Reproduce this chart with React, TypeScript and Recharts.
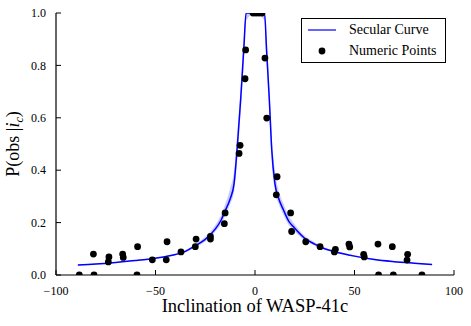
import {
  ComposedChart,
  Line,
  Area,
  Scatter,
  XAxis,
  YAxis,
  Legend,
} from "recharts";

// secular curve
const curveX = [-89, -80, -70, -60, -50, -40, -35, -30, -25, -20, -17, -15, -12.5, -10.5, -9, -7.2, -5.5, -4.5, 0, 4.8, 5.8, 7.2, 8.4, 10, 12, 14.2, 17, 19.2, 25, 30, 35, 40, 50, 60, 70, 80, 89];
const curveY = [0.038, 0.042, 0.048, 0.055, 0.064, 0.078, 0.09, 0.112, 0.136, 0.175, 0.21, 0.245, 0.29, 0.35, 0.48, 0.67, 0.88, 1, 1, 1, 0.86, 0.67, 0.48, 0.35, 0.29, 0.25, 0.205, 0.185, 0.14, 0.118, 0.1, 0.089, 0.072, 0.059, 0.051, 0.045, 0.04];
const bandLo = [0.036, 0.04, 0.046, 0.053, 0.062, 0.075, 0.086, 0.106, 0.128, 0.165, 0.195, 0.225, 0.27, 0.32, 0.43, 0.62, 0.83, 0.97, 1, 0.97, 0.81, 0.62, 0.43, 0.32, 0.27, 0.23, 0.19, 0.172, 0.132, 0.112, 0.096, 0.086, 0.07, 0.057, 0.049, 0.043, 0.038];
const bandHi = [0.04, 0.044, 0.05, 0.057, 0.066, 0.081, 0.094, 0.118, 0.146, 0.19, 0.23, 0.27, 0.33, 0.4, 0.53, 0.72, 0.93, 1, 1, 1, 0.91, 0.72, 0.53, 0.4, 0.32, 0.275, 0.225, 0.2, 0.15, 0.125, 0.105, 0.093, 0.075, 0.062, 0.053, 0.047, 0.042];

// numeric points
const pointsX = [-88.3, -81.2, -80.9, -73.7, -73.4, -66.5, -66.2, -59, -59.3, -51.6, -44.6, -44.2, -37.2, -30, -29.6, -22.4, -22.4, -15, -15.4, -8, -7.5, -5, -4.7, -1, 0.5, 2, 3.5, 5, 5.9, 10.7, 11.1, 17.9, 18.4, 25.5, 32.7, 39.9, 40.4, 47.2, 47.6, 54.6, 54.9, 61.8, 62.1, 69, 69.5, 76.4, 76.7, 83.9];
const pointsY = [0, 0.08, 0, 0.05, 0.069, 0.08, 0.067, 0.108, 0, 0.058, 0.058, 0.127, 0.088, 0.108, 0.137, 0.147, 0.137, 0.237, 0.196, 0.464, 0.495, 0.749, 0.859, 1, 1, 1, 1, 0.828, 0.599, 0.306, 0.375, 0.237, 0.166, 0.127, 0.108, 0.088, 0.098, 0.118, 0.107, 0.079, 0.069, 0.118, 0, 0.108, 0, 0.057, 0.079, 0];

const xTicks = [-100, -50, 0, 50, 100];
const yTicks = [0, 0.2, 0.4, 0.6, 0.8, 1.0];

const curveData = curveX.map((x, i) => ({ x, y: curveY[i], band: [bandLo[i], bandHi[i]] }));
const pointData = pointsX.map((x, i) => ({ x, y: pointsY[i] }));

const font = "Liberation Serif, DejaVu Serif, serif";
const fmtX = (v: number) => (v < 0 ? "\u2212" + Math.abs(v) : String(v));

const Dot = (props: any) => <circle cx={props.cx} cy={props.cy} r={3.4} fill="#000" />;

const LegendBox = () => (
  <div
    style={{
      position: "relative",
      width: 145,
      height: 45,
      border: "1px solid #000",
      background: "#fff",
      boxSizing: "border-box",
      fontFamily: font,
      fontSize: 14,
      lineHeight: "16px",
      color: "#000",
    }}
  >
    <svg width={40} height={44} style={{ position: "absolute", left: 0, top: 0 }}>
      <line x1={6} x2={34} y1={11} y2={11} stroke="#3333ff" strokeWidth={1.5} />
      <circle cx={20} cy={32} r={3.4} fill="#000" />
    </svg>
    <span style={{ position: "absolute", left: 47, top: 3, whiteSpace: "nowrap" }}>Secular Curve</span>
    <span style={{ position: "absolute", left: 47, top: 24, whiteSpace: "nowrap" }}>Numeric Points</span>
  </div>
);

export default function App() {
  return (
    <div style={{ position: "absolute", left: 0, top: 0, background: "#fff", fontFamily: font }}>
      <ComposedChart
        width={471}
        height={326}
        data={curveData}
        margin={{ top: 13, right: 17, bottom: 0, left: 0 }}
        style={{ fontFamily: font }}
      >
        <XAxis
          dataKey="x"
          type="number"
          domain={[-100, 100]}
          ticks={xTicks}
          tickFormatter={fmtX}
          allowDataOverflow
          height={51}
          tickSize={-5}
          tickMargin={16}
          axisLine={{ stroke: "#000", strokeWidth: 1.2 }}
          tickLine={{ stroke: "#000" }}
          tick={{ fill: "#000", fontSize: 12, fontFamily: font }}
          label={{
            content: () => (
              <text x={255} y={312} textAnchor="middle" fontFamily={font} fontSize={18.5} fill="#000">
                Inclination of WASP-41c
              </text>
            ),
          }}
        />
        <XAxis
          xAxisId="top"
          orientation="top"
          type="number"
          domain={[-100, 100]}
          ticks={xTicks}
          height={0}
          tickSize={-5}
          tick={false}
          axisLine={{ stroke: "#000", strokeWidth: 1.2 }}
          tickLine={{ stroke: "#000" }}
        />
        <YAxis
          type="number"
          domain={[0, 1]}
          ticks={yTicks}
          tickFormatter={(v: number) => v.toFixed(1)}
          allowDataOverflow
          width={56}
          tickSize={-5}
          tickMargin={15}
          axisLine={{ stroke: "#000", strokeWidth: 1.2 }}
          tickLine={{ stroke: "#000" }}
          tick={{ fill: "#000", fontSize: 12, fontFamily: font }}
          label={{
            content: () => (
              <text
                x={0}
                y={0}
                transform="translate(19,144) rotate(-90)"
                textAnchor="middle"
                fontFamily={font}
                fontSize={18}
                fill="#000"
              >
                P(obs |<tspan fontStyle="italic">i</tspan>
                <tspan fontStyle="italic" fontSize={12} dy={4}>c</tspan>
                <tspan dy={-4}>)</tspan>
              </text>
            ),
          }}
        />
        <YAxis
          yAxisId="right"
          orientation="right"
          type="number"
          domain={[0, 1]}
          ticks={yTicks}
          width={0}
          tickSize={-5}
          tick={false}
          axisLine={{ stroke: "#000", strokeWidth: 1.2 }}
          tickLine={{ stroke: "#000" }}
        />
        <Area
          dataKey="band"
          type="monotone"
          stroke="none"
          fill="#0000ff"
          fillOpacity={0.2}
          isAnimationActive={false}
          legendType="none"
        />
        <Line
          dataKey="y"
          type="monotone"
          stroke="#0000ff"
          strokeWidth={1.5}
          dot={false}
          isAnimationActive={false}
          name="Secular Curve"
        />
        <Scatter
          data={pointData}
          dataKey="y"
          fill="#000"
          shape={Dot}
          isAnimationActive={false}
          name="Numeric Points"
        />
        <Legend
          layout="vertical"
          align="center"
          verticalAlign="middle"
          content={LegendBox}
          wrapperStyle={{ left: 301, top: 18, width: 145 }}
        />
      </ComposedChart>
    </div>
  );
}
